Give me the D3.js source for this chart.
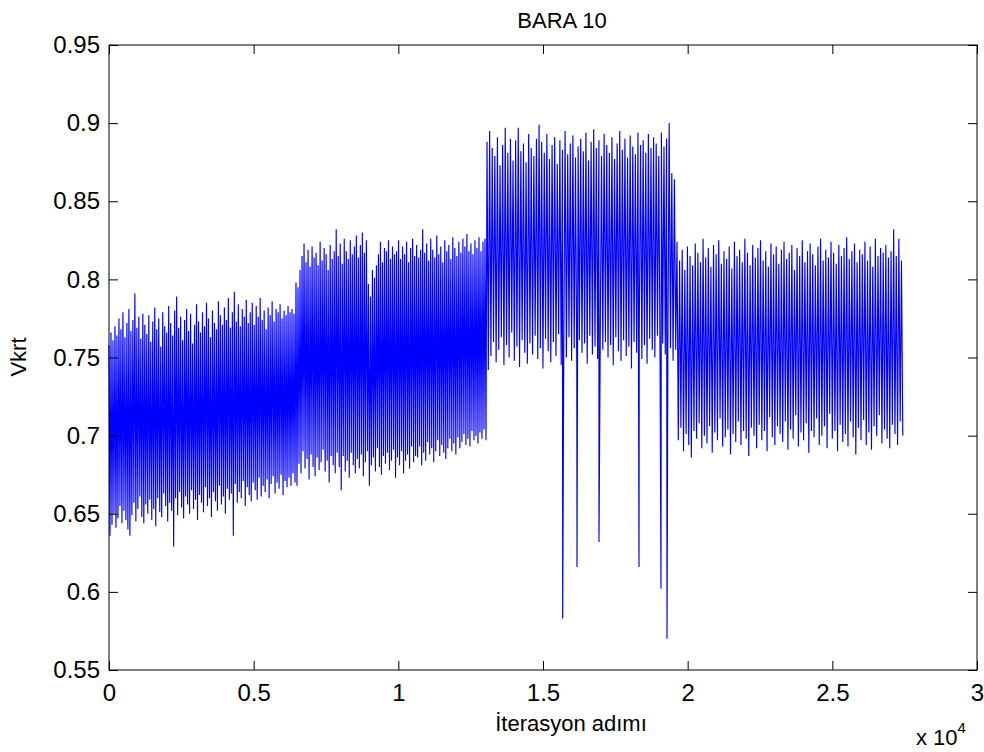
<!DOCTYPE html>
<html>
<head>
<meta charset="utf-8">
<script src="https://cdn.jsdelivr.net/npm/d3@7"></script>
<style>
  body { margin: 0; background: #fff; }
  svg text { font-family: "Liberation Sans", Arial, sans-serif; fill: #000; }
</style>
</head>
<body>
<svg id="chart" width="984" height="752"></svg>
<script>
// Iteration at which each operating stage begins / the run ends
const stageBounds = [0, 6463, 13065, 19631, 27480];

// Stage 1: successive peak (hi) and trough (lo) voltages
const hiA = [0.758, 0.766, 0.761, 0.770, 0.764, 0.775, 0.768, 0.779, 0.763, 0.772,
  0.781, 0.767, 0.774, 0.791, 0.769, 0.776, 0.762, 0.778, 0.771, 0.765,
  0.777, 0.760, 0.773, 0.782, 0.768, 0.775, 0.757, 0.779, 0.770, 0.766,
  0.783, 0.772, 0.764, 0.780, 0.789, 0.769, 0.776, 0.761, 0.774, 0.781,
  0.767, 0.778, 0.759, 0.771, 0.784, 0.773, 0.766, 0.779, 0.770, 0.785,
  0.775, 0.763, 0.780, 0.772, 0.768, 0.786, 0.777, 0.771, 0.782, 0.774,
  0.788, 0.769, 0.779, 0.792, 0.773, 0.784, 0.770, 0.781, 0.776, 0.787,
  0.772, 0.779, 0.785, 0.771, 0.783, 0.776, 0.788, 0.774, 0.780, 0.768,
  0.782, 0.777, 0.786, 0.773, 0.781, 0.779, 0.784, 0.775, 0.780, 0.777,
  0.783, 0.779, 0.781, 0.778];
const loA = [0.636, 0.643, 0.650, 0.641, 0.647, 0.655, 0.644, 0.652, 0.646, 0.640,
  0.636, 0.649, 0.657, 0.645, 0.653, 0.661, 0.648, 0.644, 0.656, 0.650,
  0.659, 0.646, 0.653, 0.642, 0.660, 0.651, 0.648, 0.663, 0.655, 0.645,
  0.657, 0.652, 0.629, 0.660, 0.649, 0.664, 0.654, 0.647, 0.661, 0.656,
  0.650, 0.665, 0.653, 0.659, 0.646, 0.662, 0.657, 0.651, 0.667, 0.655,
  0.660, 0.648, 0.664, 0.658, 0.652, 0.668, 0.656, 0.661, 0.650, 0.666,
  0.659, 0.663, 0.636, 0.669, 0.657, 0.664, 0.660, 0.671, 0.655, 0.667,
  0.662, 0.658, 0.670, 0.665, 0.659, 0.673, 0.661, 0.668, 0.664, 0.672,
  0.660, 0.669, 0.674, 0.663, 0.670, 0.666, 0.675, 0.662, 0.671, 0.667,
  0.673, 0.668, 0.676, 0.670];

// Stage 2
const hiB = [0.798, 0.795, 0.806, 0.815, 0.823, 0.811, 0.819, 0.808, 0.821, 0.814,
  0.817, 0.809, 0.824, 0.812, 0.820, 0.816, 0.806, 0.822, 0.813, 0.818,
  0.832, 0.815, 0.823, 0.810, 0.826, 0.818, 0.813, 0.825, 0.816, 0.821,
  0.828, 0.814, 0.822, 0.830, 0.817, 0.825, 0.797, 0.789, 0.806, 0.801,
  0.809, 0.816, 0.824, 0.811, 0.820, 0.818, 0.825, 0.813, 0.821, 0.816,
  0.818, 0.825, 0.813, 0.821, 0.816, 0.824, 0.811, 0.820, 0.826, 0.815,
  0.822, 0.814, 0.819, 0.832, 0.817, 0.823, 0.812, 0.826, 0.819, 0.814,
  0.828, 0.816, 0.821, 0.811, 0.825, 0.818, 0.822, 0.813, 0.827, 0.820,
  0.815, 0.824, 0.817, 0.826, 0.821, 0.829, 0.818, 0.823, 0.816, 0.825,
  0.820, 0.827, 0.818, 0.824, 0.826];
const loB = [0.668, 0.682, 0.676, 0.690, 0.679, 0.685, 0.672, 0.688, 0.680, 0.674,
  0.686, 0.678, 0.683, 0.691, 0.677, 0.684, 0.670, 0.687, 0.681, 0.676,
  0.689, 0.680, 0.665, 0.687, 0.677, 0.684, 0.673, 0.689, 0.681, 0.676,
  0.685, 0.679, 0.688, 0.674, 0.683, 0.690, 0.668, 0.681, 0.686, 0.677,
  0.692, 0.680, 0.675, 0.687, 0.682, 0.689, 0.678, 0.684, 0.691, 0.673,
  0.686, 0.681, 0.690, 0.676, 0.684, 0.688, 0.679, 0.693, 0.683, 0.687,
  0.686, 0.693, 0.681, 0.689, 0.684, 0.696, 0.688, 0.692, 0.683, 0.690,
  0.697, 0.687, 0.694, 0.689, 0.685, 0.692, 0.698, 0.690, 0.695, 0.688,
  0.699, 0.692, 0.696, 0.701, 0.694, 0.698, 0.693, 0.703, 0.697, 0.700,
  0.695, 0.702, 0.698, 0.704, 0.697];

// Stage 3
const hiC = [0.888, 0.895, 0.884, 0.879, 0.891, 0.873, 0.886, 0.897, 0.881, 0.890,
  0.876, 0.889, 0.897, 0.882, 0.887, 0.875, 0.893, 0.884, 0.879, 0.890,
  0.899, 0.888, 0.881, 0.893, 0.877, 0.886, 0.891, 0.874, 0.889, 0.883,
  0.895, 0.880, 0.887, 0.892, 0.878, 0.885, 0.890, 0.882, 0.894, 0.876,
  0.888, 0.896, 0.884, 0.889, 0.879, 0.893, 0.886, 0.881, 0.891, 0.877,
  0.887, 0.895, 0.883, 0.890, 0.878, 0.892, 0.885, 0.880, 0.894, 0.886,
  0.889, 0.881, 0.893, 0.884, 0.891, 0.887, 0.879, 0.894, 0.885, 0.890,
  0.900, 0.868, 0.864];
const loC = [0.742, 0.751, 0.760, 0.747, 0.755, 0.763, 0.745, 0.758, 0.750, 0.766,
  0.748, 0.757, 0.744, 0.761, 0.753, 0.746, 0.759, 0.752, 0.764, 0.749,
  0.756, 0.743, 0.762, 0.754, 0.747, 0.760, 0.751, 0.765, 0.745, 0.758,
  0.750, 0.763, 0.748, 0.756, 0.744, 0.761, 0.753, 0.759, 0.746, 0.764,
  0.752, 0.757, 0.749, 0.762, 0.755, 0.760, 0.750, 0.758, 0.745, 0.763,
  0.754, 0.748, 0.761, 0.751, 0.757, 0.743, 0.760, 0.753, 0.766, 0.749,
  0.758, 0.746, 0.762, 0.755, 0.750, 0.764, 0.747, 0.759, 0.752, 0.761,
  0.756, 0.748, 0.755];

// Stage 3 isolated voltage dips
const dipIter = [15680, 16175, 16935, 18318, 19078, 19286];
const dipVal = [0.583, 0.616, 0.632, 0.616, 0.602, 0.570];

// Stage 4
const hiD = [0.824, 0.812, 0.819, 0.806, 0.821, 0.815, 0.809, 0.823, 0.817, 0.811,
  0.826, 0.814, 0.820, 0.808, 0.822, 0.816, 0.825, 0.810, 0.818, 0.813,
  0.821, 0.807, 0.824, 0.815, 0.819, 0.811, 0.826, 0.817, 0.809, 0.822,
  0.814, 0.820, 0.825, 0.812, 0.818, 0.808, 0.823, 0.816, 0.821, 0.810,
  0.819, 0.824, 0.813, 0.817, 0.822, 0.806, 0.820, 0.815, 0.825, 0.811,
  0.818, 0.823, 0.816, 0.809, 0.821, 0.826, 0.812, 0.819, 0.814, 0.824,
  0.817, 0.810, 0.822, 0.815, 0.820, 0.827, 0.813, 0.818, 0.823, 0.811,
  0.819, 0.816, 0.824, 0.812, 0.821, 0.808, 0.826, 0.815, 0.820, 0.817,
  0.822, 0.814, 0.818, 0.832, 0.815, 0.826, 0.812];
const loD = [0.697, 0.705, 0.690, 0.701, 0.694, 0.686, 0.703, 0.698, 0.708, 0.692,
  0.700, 0.695, 0.706, 0.689, 0.702, 0.697, 0.711, 0.693, 0.699, 0.704,
  0.688, 0.701, 0.696, 0.709, 0.694, 0.703, 0.698, 0.687, 0.705, 0.700,
  0.692, 0.707, 0.697, 0.703, 0.690, 0.712, 0.699, 0.694, 0.706, 0.701,
  0.696, 0.709, 0.691, 0.704, 0.698, 0.713, 0.693, 0.702, 0.697, 0.708,
  0.689, 0.703, 0.699, 0.711, 0.694, 0.700, 0.706, 0.692, 0.714, 0.698,
  0.703, 0.690, 0.707, 0.696, 0.701, 0.693, 0.709, 0.699, 0.688, 0.705,
  0.697, 0.710, 0.694, 0.702, 0.691, 0.706, 0.700, 0.713, 0.695, 0.704,
  0.698, 0.692, 0.707, 0.701, 0.694, 0.709, 0.700];

// Axis ticks
const xTicks = [0, 5000, 10000, 15000, 20000, 25000, 30000];
const xTickLabels = ["0", "0.5", "1", "1.5", "2", "2.5", "3"];
const yTicks = [0.55, 0.6, 0.65, 0.7, 0.75, 0.8, 0.85, 0.9, 0.95];
const yTickLabels = ["0.55", "0.6", "0.65", "0.7", "0.75", "0.8", "0.85", "0.9", "0.95"];

const titleText = "BARA 10";
const xLabelText = "İterasyon adımı";
const yLabelText = "Vkrt";

// ---- layout ----
const plot = { left: 109, right: 977, top: 45, bottom: 670 };
const svg = d3.select("#chart");

const x = d3.scaleLinear().domain([0, 30000]).range([plot.left, plot.right]);
const y = d3.scaleLinear().domain([0.55, 0.95]).range([plot.bottom, plot.top]);

// Build the series: each stage's peaks and troughs alternate, evenly spread
// across the stage's iteration range.
const stages = [[hiA, loA], [hiB, loB], [hiC, loC], [hiD, loD]];
const points = [];
stages.forEach(([hi, lo], s) => {
  const seq = d3.merge(hi.map((h, i) => (i < lo.length ? [h, lo[i]] : [h])));
  const a = stageBounds[s], b = stageBounds[s + 1], n = seq.length;
  seq.forEach((v, i) => points.push([a + i * (b - a) / n, v]));
});
dipIter.forEach((it, i) => points.push([it, dipVal[i]]));
points.sort((p, q) => p[0] - q[0]);

// Trace
svg.append("path")
  .datum(points)
  .attr("fill", "none")
  .attr("stroke", "#0000ff")
  .attr("stroke-width", 1.15)
  .attr("d", d3.line().x(d => x(d[0])).y(d => y(d[1])));

// Axes: MATLAB-style box with inward ticks on all four sides
const tick = 9;
const fontSize = 24;

const gx = svg.append("g").attr("transform", `translate(0,${plot.bottom})`)
  .call(d3.axisBottom(x).tickValues(xTicks).tickFormat((d, i) => xTickLabels[i])
    .tickSizeInner(-tick).tickSizeOuter(0).tickPadding(14));
const gxt = svg.append("g").attr("transform", `translate(0,${plot.top})`)
  .call(d3.axisTop(x).tickValues(xTicks).tickFormat("")
    .tickSizeInner(-tick).tickSizeOuter(0));
const gy = svg.append("g").attr("transform", `translate(${plot.left},0)`)
  .call(d3.axisLeft(y).tickValues(yTicks).tickFormat((d, i) => yTickLabels[i])
    .tickSizeInner(-tick).tickSizeOuter(0).tickPadding(9));
const gyr = svg.append("g").attr("transform", `translate(${plot.right},0)`)
  .call(d3.axisRight(y).tickValues(yTicks).tickFormat("")
    .tickSizeInner(-tick).tickSizeOuter(0));

[gx, gxt, gy, gyr].forEach(g => {
  g.select(".domain").remove();
  g.selectAll("line").attr("stroke", "#000");
  g.selectAll("text").attr("font-size", fontSize).attr("font-family", null).attr("fill", "#000");
});

svg.append("rect")
  .attr("x", plot.left).attr("y", plot.top)
  .attr("width", plot.right - plot.left).attr("height", plot.bottom - plot.top)
  .attr("fill", "none").attr("stroke", "#000").attr("stroke-width", 1);

// Title and labels
svg.append("text").attr("x", 562).attr("y", 28).attr("text-anchor", "middle")
  .attr("font-size", 22).text(titleText);
svg.append("text").attr("x", 571).attr("y", 731).attr("text-anchor", "middle")
  .attr("font-size", 22).text(xLabelText);
svg.append("text").attr("transform", "translate(26,357) rotate(-90)")
  .attr("text-anchor", "middle").attr("font-size", 22).text(yLabelText);

// Exponent note for the x axis
const expo = svg.append("text").attr("x", 916).attr("y", 745).attr("font-size", 22);
expo.append("tspan").text("x 10");
expo.append("tspan").attr("dy", -12).attr("font-size", 15).text("4");
</script>
</body>
</html>
